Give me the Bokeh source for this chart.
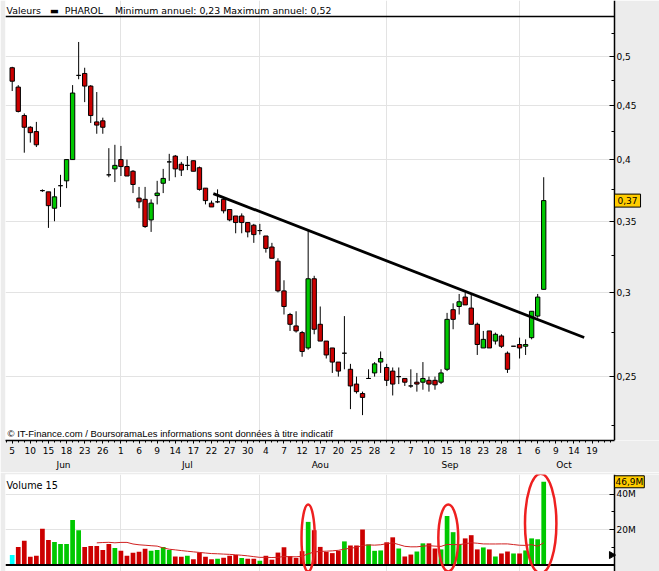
import math
import pandas as pd
from bokeh.plotting import figure
from bokeh.models import (ColumnDataSource, Range1d, FixedTicker, CustomJSTickFormatter,
                          LinearAxis, Label, Span, BoxAnnotation)
from bokeh.layouts import column
from bokeh.embed import file_html
from bokeh.resources import INLINE

# ---------------- data (trading days from 5 Jun 2015) ----------------
opens = [0.488, 0.468, 0.440, 0.429, 0.425, 0.374, 0.373, 0.360, 0.378, 0.382,
         0.400, 0.480, 0.482, 0.469, 0.434, 0.435, 0.387, 0.392, 0.400, 0.394,
         0.390, 0.368, 0.367, 0.351, 0.370, 0.380, 0.398, 0.403, 0.396, 0.395,
         0.399, 0.393, 0.376, 0.364, 0.365, 0.367, 0.359, 0.354, 0.354, 0.349,
         0.347, 0.343, 0.339, 0.331, 0.321, 0.301, 0.286, 0.279, 0.275, 0.266,
         0.309, 0.280, 0.270, 0.266, 0.258, 0.263, 0.254, 0.246, 0.241, 0.249,
         0.252, 0.258, 0.255, 0.253, 0.250, 0.249, 0.245, 0.247, 0.247, 0.248,
         0.248, 0.247, 0.254, 0.289, 0.291, 0.297, 0.290, 0.280, 0.266, 0.276,
         0.270, 0.273, 0.263, 0.267, 0.268, 0.267, 0.272, 0.285, 0.302]
highs = [0.489, 0.470, 0.442, 0.430, 0.434, 0.375, 0.373, 0.376, 0.387, 0.400,
         0.470, 0.516, 0.488, 0.470, 0.463, 0.438, 0.410, 0.413, 0.412, 0.400,
         0.391, 0.377, 0.377, 0.367, 0.382, 0.392, 0.405, 0.404, 0.398, 0.403,
         0.399, 0.394, 0.376, 0.366, 0.375, 0.368, 0.359, 0.354, 0.356, 0.349,
         0.348, 0.348, 0.339, 0.334, 0.323, 0.308, 0.287, 0.288, 0.276, 0.343,
         0.311, 0.291, 0.270, 0.266, 0.258, 0.285, 0.257, 0.250, 0.242, 0.254,
         0.258, 0.264, 0.257, 0.255, 0.255, 0.249, 0.254, 0.252, 0.258, 0.250,
         0.250, 0.254, 0.287, 0.293, 0.299, 0.300, 0.299, 0.281, 0.276, 0.276,
         0.275, 0.274, 0.264, 0.267, 0.272, 0.271, 0.288, 0.299, 0.385]
lows = [0.464, 0.443, 0.406, 0.415, 0.411, 0.373, 0.345, 0.350, 0.361, 0.376,
        0.400, 0.476, 0.453, 0.433, 0.423, 0.423, 0.385, 0.381, 0.386, 0.386,
        0.372, 0.360, 0.345, 0.342, 0.363, 0.372, 0.382, 0.385, 0.386, 0.391,
        0.390, 0.374, 0.363, 0.361, 0.364, 0.356, 0.350, 0.341, 0.341, 0.338,
        0.334, 0.340, 0.327, 0.323, 0.300, 0.286, 0.276, 0.275, 0.261, 0.265,
        0.274, 0.270, 0.260, 0.252, 0.250, 0.254, 0.233, 0.241, 0.230, 0.249,
        0.250, 0.252, 0.245, 0.240, 0.246, 0.245, 0.244, 0.242, 0.243, 0.242,
        0.243, 0.246, 0.253, 0.277, 0.286, 0.292, 0.280, 0.262, 0.266, 0.266,
        0.268, 0.266, 0.252, 0.267, 0.260, 0.262, 0.271, 0.284, 0.302]
closes = [0.474, 0.444, 0.429, 0.424, 0.413, 0.374, 0.362, 0.369, 0.378, 0.400,
          0.462, 0.480, 0.469, 0.440, 0.431, 0.429, 0.387, 0.395, 0.394, 0.386,
          0.379, 0.365, 0.346, 0.364, 0.372, 0.384, 0.398, 0.392, 0.391, 0.395,
          0.390, 0.375, 0.366, 0.361, 0.365, 0.358, 0.351, 0.349, 0.349, 0.342,
          0.340, 0.343, 0.330, 0.323, 0.301, 0.291, 0.280, 0.276, 0.264, 0.309,
          0.277, 0.270, 0.262, 0.258, 0.253, 0.263, 0.245, 0.242, 0.239, 0.249,
          0.257, 0.260, 0.248, 0.246, 0.250, 0.247, 0.245, 0.246, 0.249, 0.246,
          0.2456, 0.252, 0.283, 0.283, 0.294, 0.292, 0.280, 0.268, 0.271, 0.266,
          0.274, 0.267, 0.254, 0.267, 0.266, 0.268, 0.288, 0.297, 0.366]
volumes_m = [5.7, 10.2, 13.7, 4.6, 5.2, 20.4, 14.1, 13.0, 11.9, 11.9,
             25.4, 19.6, 10.2, 10.7, 10.7, 8.5, 11.9, 9.6, 8.0, 5.2,
             6.9, 7.4, 9.1, 8.0, 8.5, 10.2, 8.5, 4.8, 4.6, 5.2,
             3.3, 7.0, 4.6, 3.3, 3.5, 4.1, 5.2, 5.6, 3.9, 3.5,
             3.5, 2.4, 5.2, 3.0, 7.0, 10.0, 5.0, 4.0, 7.8, 24.3,
             19.6, 10.2, 7.4, 6.7, 8.0, 13.3, 11.0, 11.0, 20.0, 11.6,
             8.0, 8.2, 12.8, 15.6, 9.3, 4.8, 5.9, 7.6, 12.2, 12.2,
             9.3, 8.8, 27.6, 18.5, 11.6, 15.0, 16.8, 8.8, 9.9, 8.8,
             4.8, 6.5, 7.6, 6.5, 6.5, 8.2, 15.0, 14.5, 46.9]

day_labels = ["5", "10", "15", "18", "23", "26", "1", "6", "9", "14", "17", "22", "27",
              "30", "4", "7", "12", "17", "20", "25", "28", "2", "7", "10", "15", "18",
              "23", "28", "1", "6", "9", "14", "19"]
month_labels = ["Jun", "Jul", "Aou", "Sep", "Oct"]
month_start_idx = [18, 41, 62, 84]          # 1 Jul, 3 Aug, 1 Sep, 1 Oct
price_ticks = [0.25, 0.3, 0.35, 0.4, 0.45, 0.5]
price_minor = [0.225, 0.275, 0.325, 0.375, 0.425, 0.475, 0.525]
vol_ticks = [20, 40]
vol_minor = [10, 30]
ma_window = 15
trend_idx = [33.3, 94.7]
trend_val = [0.3716, 0.2721]
highlight_idx = [49.0, 72.2, 87.5]
highlight_w = [2.2, 3.3, 5.2]
highlight_mid = [15.2, 15.2, 23.4]
highlight_h = [37.7, 37.7, 56.0]
scroll_marker_level = 5.6

# ---------------- style / frame ----------------
FONT = "DejaVu Sans"
RED = "#cc0000"
GREEN = "#00c800"
CYAN = "#00ffff"
GRID = "#e3e3e3"
PANEL = "#ececec"
BOX = "#ffcc00"
W = 659
X0, X_AXIS, X_END = -1.11, 99.72, 107.17
Y_BOT, Y_TOPLINE, Y_TOP = 0.2177, 0.5453, 0.5645
V0, V1 = -3.66, 51.0


def fmt(v):
    return f"{v:.2f}".replace(".", ",")


n = len(closes)
xs = list(range(n))

# ---------------- price panel ----------------
p = figure(width=W, height=472, x_range=Range1d(X0, X_END), y_range=Range1d(Y_BOT, Y_TOP),
           y_axis_type="log", y_axis_location="right", output_backend="svg",
           toolbar_location=None, min_border_left=5, min_border_right=0,
           min_border_top=0, min_border_bottom=0, background_fill_color="white",
           border_fill_color=PANEL, outline_line_color=None)

p.add_layout(BoxAnnotation(left=X_AXIS, fill_color=PANEL, fill_alpha=1.0,
                           line_color=None, level="underlay"))

xa = p.below[0]
day_ticks = list(range(0, 3 * len(day_labels), 3))
xa.ticker = FixedTicker(ticks=day_ticks, minor_ticks=list(range(-1, 100)))
xa.major_label_overrides = {t: lab for t, lab in zip(day_ticks, day_labels)}
xa.bounds = (X0, X_AXIS)
xa.major_tick_in = 0
xa.major_tick_out = 3
xa.minor_tick_in = 0
xa.minor_tick_out = 2
xa.axis_line_color = "black"
xa.axis_line_width = 1.5
xa.major_label_standoff = 3
xa.major_label_text_font = FONT
xa.major_label_text_font_size = "9px"
xa.major_label_text_color = "black"

starts = [0] + month_start_idx
ends = month_start_idx + [X_AXIS]
month_centers = [(s + e - 1) / 2 for s, e in zip(starts, ends)]
mx = LinearAxis(ticker=FixedTicker(ticks=month_centers),
                major_label_overrides={c: m for c, m in zip(month_centers, month_labels)},
                major_tick_out=0, major_tick_in=0, minor_tick_out=0, minor_tick_in=0,
                axis_line_color=None, major_label_standoff=3,
                major_label_text_font=FONT, major_label_text_font_size="9px",
                major_label_text_color="black")
p.add_layout(mx, "below")

ya = p.yaxis[0]
ya.fixed_location = X_AXIS
ya.ticker = FixedTicker(ticks=price_ticks, minor_ticks=price_minor)
ya.formatter = CustomJSTickFormatter(code="return tick.toFixed(2).replace(/0$/, '').replace('.', ',');")
ya.major_tick_in = 5
ya.major_tick_out = 0
ya.minor_tick_in = 3
ya.minor_tick_out = 0
ya.axis_line_color = "black"
ya.axis_line_width = 1.5
ya.major_label_standoff = 2
ya.major_label_text_font = FONT
ya.major_label_text_font_size = "9px"
ya.major_label_text_color = "black"

p.xgrid.ticker = FixedTicker(ticks=month_start_idx)
p.xgrid.grid_line_color = GRID
p.ygrid.grid_line_color = GRID

# frame top rule under the title
p.segment(x0=[X0], y0=[Y_TOPLINE], x1=[X_AXIS], y1=[Y_TOPLINE], line_color="black", line_width=1.5)

cs = ColumnDataSource(dict(
    x=xs, high=highs, low=lows,
    top=[max(o, c) for o, c in zip(opens, closes)],
    bottom=[min(o, c) for o, c in zip(opens, closes)],
    color=[GREEN if c > o else RED for o, c in zip(opens, closes)]))
p.segment(x0="x", y0="low", x1="x", y1="high", line_color="black", line_width=1, source=cs)
p.vbar(x="x", width=0.72, top="top", bottom="bottom", fill_color="color",
       line_color="black", line_width=1, source=cs)

p.line(trend_idx, trend_val, line_color="black", line_width=2.8)

title_text = ("Valeurs\u00a0\u00a0\u00a0\u25ac\u00a0\u00a0PHAROL\u00a0\u00a0\u00a0\u00a0"
              "Minimum annuel: %s Maximum annuel: %s" % (fmt(min(lows)), fmt(max(highs))))
p.add_layout(Label(x=X0, y=Y_TOPLINE, x_offset=1, y_offset=5.5, text=title_text,
                   text_font=FONT, text_font_size="9.4px", text_color="black",
                   text_align="left", text_baseline="middle"))
p.add_layout(Label(x=X_AXIS, y=closes[-1], x_offset=0, text=fmt(closes[-1]),
                   text_font=FONT, text_font_size="9px", text_color="black",
                   text_align="left", text_baseline="middle",
                   background_fill_color=BOX, border_line_color="black", padding=3))
p.add_layout(Label(x=X0, y=Y_BOT, x_offset=2, y_offset=7,
                   text="\u00a9 IT-Finance.com / BoursoramaLes informations sont données à titre indicatif",
                   text_font="Liberation Sans", text_font_size="9.5px", text_color="black",
                   text_align="left", text_baseline="middle"))

# ---------------- volume panel ----------------
v = figure(width=W, height=99, x_range=p.x_range, y_range=Range1d(V0, V1),
           y_axis_location="right", output_backend="svg", toolbar_location=None,
           min_border_left=5, min_border_right=0, min_border_top=2, min_border_bottom=0,
           background_fill_color="white", border_fill_color=PANEL, outline_line_color=None)
v.xaxis.visible = False
v.add_layout(BoxAnnotation(left=X_AXIS, fill_color=PANEL, fill_alpha=1.0,
                           line_color=None, level="underlay"))
vy = v.yaxis[0]
vy.fixed_location = X_AXIS
vy.ticker = FixedTicker(ticks=vol_ticks, minor_ticks=vol_minor)
vy.formatter = CustomJSTickFormatter(code="return tick + 'M';")
vy.major_tick_in = 5
vy.major_tick_out = 0
vy.minor_tick_in = 3
vy.minor_tick_out = 0
vy.axis_line_color = "black"
vy.axis_line_width = 1.5
vy.major_label_standoff = 2
vy.major_label_text_font = FONT
vy.major_label_text_font_size = "9px"
vy.major_label_text_color = "black"
v.xgrid.ticker = FixedTicker(ticks=month_start_idx)
v.xgrid.grid_line_color = GRID
v.ygrid.grid_line_color = GRID

vcol = [CYAN] + [GREEN if closes[i] >= closes[i - 1] else RED for i in range(1, n)]
vs = ColumnDataSource(dict(x=xs, vol=volumes_m, color=vcol))
v.vbar(x="x", width=0.78, top="vol", bottom=0, fill_color="color", line_color=None, source=vs)
mav = pd.Series(volumes_m).rolling(ma_window).mean()
v.line(xs, mav.tolist(), line_color="#d02020", line_width=1)
v.segment(x0=[X0], y0=[0], x1=[X_AXIS], y1=[0], line_color="black", line_width=2)
v.ellipse(x=highlight_idx, y=highlight_mid, width=highlight_w, height=highlight_h,
          fill_color=None, line_color="#ee2020", line_width=2.5)
v.scatter(x=[X_AXIS - 0.5], y=[scroll_marker_level], marker="triangle", size=7,
          angle=-math.pi / 2, fill_color="black", line_color="black")
v.add_layout(Label(x=X0, y=V1, x_offset=1, y_offset=-11, text="Volume %d" % ma_window,
                   text_font=FONT, text_font_size="9.7px", text_color="black",
                   text_align="left", text_baseline="middle"))
v.add_layout(Label(x=X_AXIS, y=volumes_m[-1], x_offset=0,
                   text=("%.1f" % volumes_m[-1]).replace(".", ",") + "M",
                   text_font=FONT, text_font_size="9px", text_color="black",
                   text_align="left", text_baseline="middle",
                   background_fill_color=BOX, border_line_color="black", padding=1))

layout = column(p, v, spacing=0)
open("out.html", "w").write(file_html(layout, INLINE))
